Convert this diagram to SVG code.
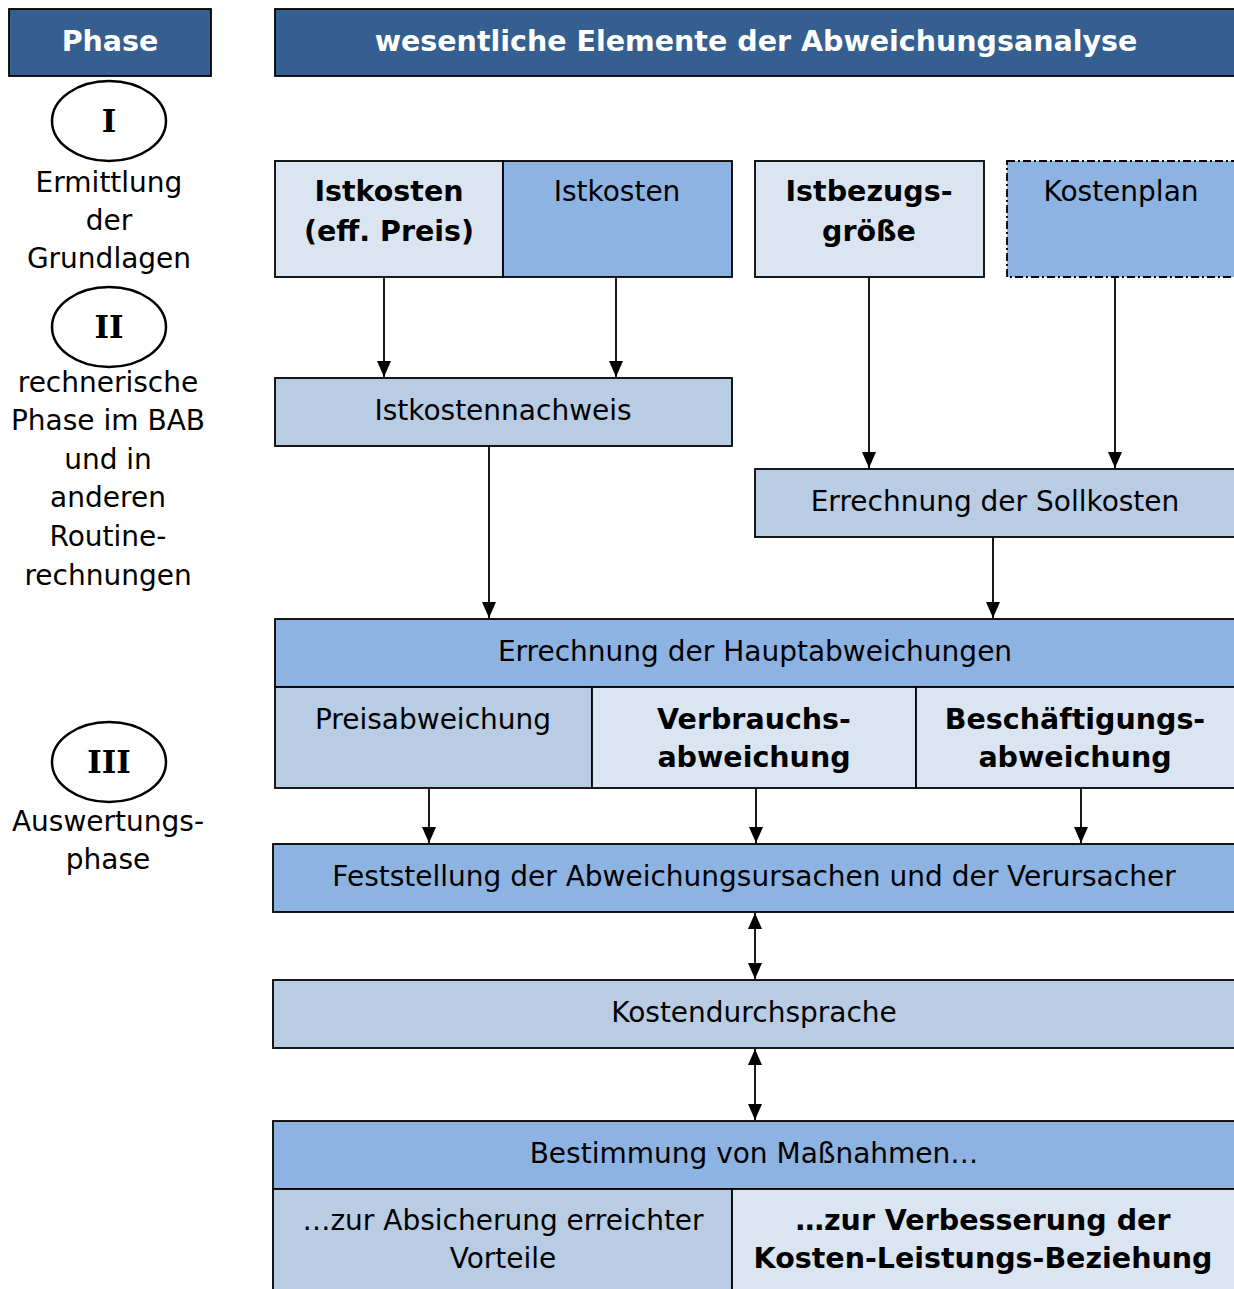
<svg xmlns="http://www.w3.org/2000/svg" width="1234" height="1289" viewBox="0 0 1234 1289">
<defs>
<style>
.t{font-family:"DejaVu Sans",Verdana,sans-serif;font-size:28px;fill:#000;text-anchor:middle}
.b{font-weight:bold;font-size:28.5px}
.w{fill:#fff}
.rn{font-family:"DejaVu Serif","Liberation Serif",serif;font-weight:bold;font-size:31px;text-anchor:middle}
.box{stroke:#000;stroke-width:1.8}
.hd{fill:#355F91}
.l1{fill:#DBE5F1}
.l2{fill:#B8CCE4}
.l3{fill:#8DB3E2}
.c{stroke:#000;stroke-width:1.8;fill:none}
</style>
<marker id="ah" viewBox="0 0 16 14" refX="16" refY="7" markerWidth="16" markerHeight="14" markerUnits="userSpaceOnUse" orient="auto"><path d="M0,0 L16,7 L0,14 Z" fill="#000"/></marker>
<marker id="as" viewBox="0 0 16 14" refX="0" refY="7" markerWidth="16" markerHeight="14" markerUnits="userSpaceOnUse" orient="auto"><path d="M16,0 L0,7 L16,14 Z" fill="#000"/></marker>
</defs>
<rect width="1234" height="1289" fill="#fff"/>

<g id="phase-header"><rect class="box hd" x="9" y="9" width="202" height="67"/><text class="t b w" x="110" y="51">Phase</text></g>
<g id="main-header"><rect class="box hd" x="275" y="9" width="962" height="67"/><text class="t b w" x="756" y="51">wesentliche Elemente der Abweichungsanalyse</text></g>

<g id="phase1"><ellipse cx="109" cy="121" rx="57" ry="40" fill="#fff" stroke="#000" stroke-width="2.5"/><text class="rn" x="109" y="132">I</text>
<text class="t" x="109" y="192">Ermittlung</text><text class="t" x="109" y="230">der</text><text class="t" x="109" y="268">Grundlagen</text></g>
<g id="phase2"><ellipse cx="109" cy="327" rx="57" ry="40" fill="#fff" stroke="#000" stroke-width="2.5"/><text class="rn" x="109" y="338">II</text>
<text class="t" x="108" y="392">rechnerische</text><text class="t" x="108" y="430">Phase im BAB</text><text class="t" x="108" y="469">und in</text><text class="t" x="108" y="507">anderen</text><text class="t" x="108" y="546">Routine-</text><text class="t" x="108" y="585">rechnungen</text></g>
<g id="phase3"><ellipse cx="109" cy="762" rx="57" ry="40" fill="#fff" stroke="#000" stroke-width="2.5"/><text class="rn" x="109" y="773">III</text>
<text class="t" x="108" y="831">Auswertungs-</text><text class="t" x="108" y="869">phase</text></g>

<g id="istkosten-eff"><rect class="box l1" x="275" y="161" width="228" height="116"/><text class="t b" x="389" y="201">Istkosten</text><text class="t b" x="389" y="241">(eff. Preis)</text></g>
<g id="istkosten"><rect class="box l3" x="503" y="161" width="229" height="116"/><text class="t" x="617" y="201">Istkosten</text></g>
<g id="istbezugsgroesse"><rect class="box l1" x="755" y="161" width="229" height="116"/><text class="t b" x="869" y="201">Istbezugs-</text><text class="t b" x="869" y="241">größe</text></g>
<g id="kostenplan"><rect class="l3" x="1007" y="161" width="230" height="116" stroke="#000" stroke-width="1.8" stroke-dasharray="8 3 2 3"/><text class="t" x="1121" y="201">Kostenplan</text></g>

<g id="istkostennachweis"><rect class="box l2" x="275" y="378" width="457" height="68"/><text class="t" x="503" y="420">Istkostennachweis</text></g>
<g id="sollkosten"><rect class="box l2" x="755" y="469" width="482" height="68"/><text class="t" x="995" y="511">Errechnung der Sollkosten</text></g>

<g id="hauptabweichungen"><rect class="box l3" x="275" y="619" width="962" height="68"/><text class="t" x="755" y="661">Errechnung der Hauptabweichungen</text></g>
<g id="preisabweichung"><rect class="box l2" x="275" y="687" width="317" height="101"/><text class="t" x="433" y="729">Preisabweichung</text></g>
<g id="verbrauchsabweichung"><rect class="box l1" x="592" y="687" width="324" height="101"/><text class="t b" x="754" y="729">Verbrauchs-</text><text class="t b" x="754" y="767">abweichung</text></g>
<g id="beschaeftigungsabweichung"><rect class="box l1" x="916" y="687" width="321" height="101"/><text class="t b" x="1075" y="729">Beschäftigungs-</text><text class="t b" x="1075" y="767">abweichung</text></g>

<g id="feststellung"><rect class="box l3" x="273" y="844" width="964" height="68"/><text class="t" x="754" y="886">Feststellung der Abweichungsursachen und der Verursacher</text></g>
<g id="kostendurchsprache"><rect class="box l2" x="273" y="980" width="964" height="68"/><text class="t" x="754" y="1022">Kostendurchsprache</text></g>
<g id="bestimmung"><rect class="box l3" x="273" y="1121" width="964" height="68"/><text class="t" x="754" y="1163">Bestimmung von Maßnahmen…</text></g>
<g id="absicherung"><rect class="box l2" x="273" y="1189" width="459" height="104"/><text class="t" x="503" y="1230">…zur Absicherung erreichter</text><text class="t" x="503" y="1268">Vorteile</text></g>
<g id="verbesserung"><rect class="box l1" x="732" y="1189" width="505" height="104"/><text class="t b" x="983" y="1230">…zur Verbesserung der</text><text class="t b" x="983" y="1268">Kosten-Leistungs-Beziehung</text></g>

<g id="connectors">
<line class="c" x1="384" y1="277" x2="384" y2="377" marker-end="url(#ah)"/>
<line class="c" x1="616" y1="277" x2="616" y2="377" marker-end="url(#ah)"/>
<line class="c" x1="869" y1="277" x2="869" y2="468" marker-end="url(#ah)"/>
<line class="c" x1="1115" y1="277" x2="1115" y2="468" marker-end="url(#ah)"/>
<line class="c" x1="489" y1="446" x2="489" y2="618" marker-end="url(#ah)"/>
<line class="c" x1="993" y1="537" x2="993" y2="618" marker-end="url(#ah)"/>
<line class="c" x1="429" y1="788" x2="429" y2="843" marker-end="url(#ah)"/>
<line class="c" x1="756" y1="788" x2="756" y2="843" marker-end="url(#ah)"/>
<line class="c" x1="1081" y1="788" x2="1081" y2="843" marker-end="url(#ah)"/>
<line class="c" x1="755" y1="913" x2="755" y2="979" marker-start="url(#as)" marker-end="url(#ah)"/>
<line class="c" x1="755" y1="1049" x2="755" y2="1120" marker-start="url(#as)" marker-end="url(#ah)"/>
</g>
</svg>
